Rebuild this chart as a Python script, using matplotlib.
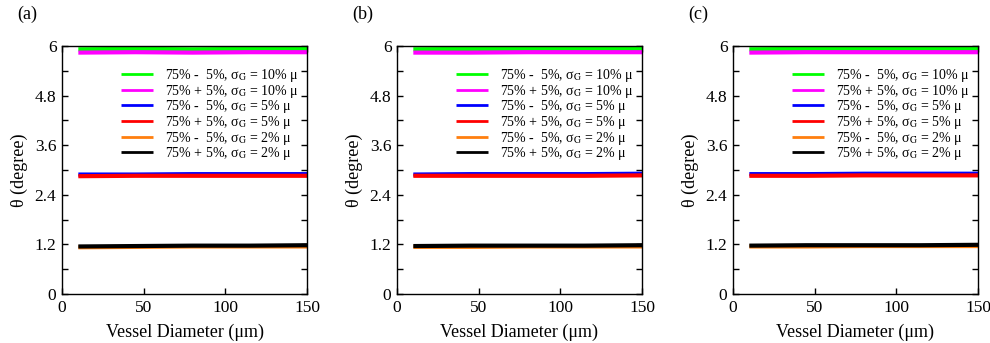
import matplotlib.pyplot as plt
from matplotlib.ticker import MultipleLocator

plt.rcParams['font.family'] = ['Liberation Serif', 'DejaVu Serif']
plt.rcParams['mathtext.fontset'] = 'stix'

# Vessel diameter samples [um]
diam = [10, 45, 80, 115, 150]

# theta [degree] per series, one row per legend entry
theta_a = [
    [5.92, 5.93, 5.92, 5.93, 5.93],  # 75% - 5%, sG = 10%
    [5.84, 5.85, 5.84, 5.85, 5.85],  # 75% + 5%, sG = 10%
    [2.89, 2.89, 2.90, 2.90, 2.90],  # 75% - 5%, sG = 5%
    [2.85, 2.86, 2.86, 2.86, 2.86],  # 75% + 5%, sG = 5%
    [1.13, 1.14, 1.15, 1.15, 1.15],  # 75% - 5%, sG = 2%
    [1.15, 1.16, 1.17, 1.17, 1.18],  # 75% + 5%, sG = 2%
]
theta_b = [
    [5.92, 5.93, 5.93, 5.93, 5.93],
    [5.84, 5.84, 5.85, 5.85, 5.85],
    [2.89, 2.90, 2.90, 2.90, 2.91],
    [2.86, 2.86, 2.86, 2.86, 2.87],
    [1.14, 1.14, 1.15, 1.15, 1.15],
    [1.16, 1.17, 1.17, 1.17, 1.18],
]
theta_c = [
    [5.92, 5.93, 5.93, 5.93, 5.93],
    [5.84, 5.85, 5.85, 5.85, 5.85],
    [2.90, 2.90, 2.91, 2.91, 2.91],
    [2.86, 2.86, 2.87, 2.87, 2.87],
    [1.15, 1.15, 1.16, 1.16, 1.16],
    [1.17, 1.18, 1.18, 1.18, 1.19],
]

labels = [
    r'75% -  5%, σ$_\mathrm{G}$ = 10% μ',
    r'75% + 5%, σ$_\mathrm{G}$ = 10% μ',
    r'75% -  5%, σ$_\mathrm{G}$ = 5% μ',
    r'75% + 5%, σ$_\mathrm{G}$ = 5% μ',
    r'75% -  5%, σ$_\mathrm{G}$ = 2% μ',
    r'75% + 5%, σ$_\mathrm{G}$ = 2% μ',
]
colors = ['#00ff00', '#ff00ff', '#0000ff', '#ff0000', '#ff7f0e', '#000000']
panel_tags = ['(a)', '(b)', '(c)']

fig = plt.figure(figsize=(9.9, 3.43), dpi=100)

AX_LEFT = [62 / 990, 397 / 990, 733 / 990]
AX_W = 245 / 990
AX_B = 49 / 343
AX_H = 248 / 343

for k, data in enumerate([theta_a, theta_b, theta_c]):
    ax = fig.add_axes([AX_LEFT[k], AX_B, AX_W, AX_H])
    for i in range(6):
        ax.plot(diam, data[i], color=colors[i], linewidth=3, label=labels[i],
                solid_capstyle='butt')

    ax.set_xlim(0, 150)
    ax.set_ylim(0, 6)
    ax.xaxis.set_major_locator(MultipleLocator(50))
    ax.yaxis.set_major_locator(MultipleLocator(1.2))
    ax.yaxis.set_minor_locator(MultipleLocator(0.6))
    ax.yaxis.set_major_formatter(plt.FuncFormatter(lambda v, p: '%g' % round(v, 1)))
    ax.tick_params(which='both', direction='in', top=True, right=True, labelsize=12.5, pad=4)
    ax.tick_params(which='major', length=4, width=1)
    ax.tick_params(which='minor', length=4, width=1)
    for s in ax.spines.values():
        s.set_linewidth(1)

    ax.set_xlabel('Vessel Diameter (μm)', fontsize=13, labelpad=6)
    ax.set_ylabel('θ (degree)', fontsize=13, labelpad=5)

    leg = ax.legend(loc='upper left', bbox_to_anchor=(0.24, 0.915), frameon=False,
                    fontsize=10, handlelength=2.3, handletextpad=0.9,
                    labelspacing=-0.1, borderaxespad=0, borderpad=0)
    for h in leg.get_lines():
        h.set_linewidth(2)

    fig.text(AX_LEFT[k] - 45 / 990, 1 - 14 / 343, panel_tags[k], fontsize=13,
             ha='left', va='center')

plt.savefig('out.png', dpi=100)
